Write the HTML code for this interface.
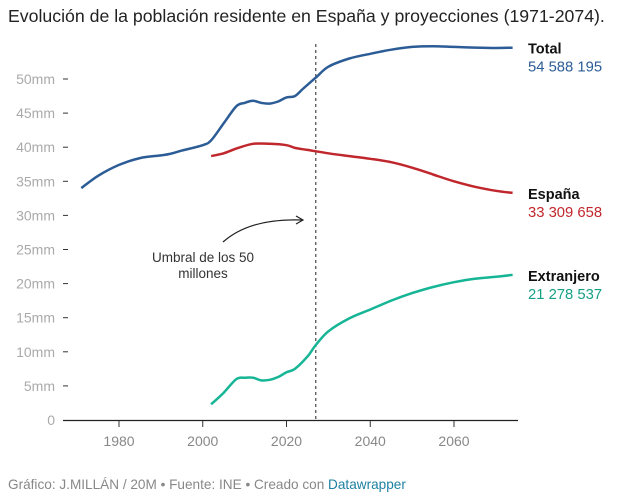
<!DOCTYPE html>
<html><head><meta charset="utf-8"><style>
body{margin:0;background:#fff;width:617px;height:497px;overflow:hidden;font-family:"Liberation Sans",sans-serif}
</style></head><body>
<svg width="617" height="497" style="position:absolute;left:0;top:0">
<text x="8" y="22" font-size="17.7" fill="#222">Evolución de la población residente en España y proyecciones (1971-2074).</text>
<g id="yaxis"></g>
<g id="xaxis"></g>
<g id="series"></g>
<g id="labels"></g>
<text x="203" y="262" font-size="13.5" fill="#333" text-anchor="middle">Umbral de los 50</text>
<text x="203" y="278" font-size="13.5" fill="#333" text-anchor="middle">millones</text>
<path d="M223,242 Q250,218 302,220" fill="none" stroke="#222" stroke-width="1.2"/>
<path d="M296,216 L303,220 L296,224" fill="none" stroke="#222" stroke-width="1.2"/>
<text x="8" y="489" font-size="13.6" fill="#888">Gráfico: J.MILLÁN / 20M • Fuente: INE • Creado con <tspan fill="#1d81a2">Datawrapper</tspan></text>
</svg>
<script>
const yTicks=[0,5,10,15,20,25,30,35,40,45,50];
const xTicks=[1980,2000,2020,2040,2060];
const totalYears=[1971,1975,1980,1985,1990,1992,1995,2000,2002,2005,2008,2010,2012,2014,2016,2018,2020,2022,2024,2027,2030,2035,2040,2045,2050,2055,2060,2065,2070,2074];
const totalVals=[34.0,35.8,37.4,38.4,38.8,39.0,39.5,40.3,41.0,43.5,46.0,46.5,46.8,46.5,46.4,46.7,47.3,47.5,48.6,50.2,51.8,53.0,53.7,54.3,54.7,54.8,54.7,54.6,54.55,54.59];
const espYears=[2002,2005,2008,2012,2016,2020,2022,2025,2030,2035,2040,2045,2050,2055,2060,2065,2070,2074];
const espVals=[38.7,39.1,39.8,40.5,40.5,40.3,39.9,39.6,39.1,38.7,38.3,37.8,37.0,36.0,35.0,34.2,33.6,33.31];
const extYears=[2002,2005,2008,2010,2012,2014,2016,2018,2020,2022,2025,2027,2030,2035,2040,2045,2050,2055,2060,2065,2070,2074];
const extVals=[2.3,4.0,6.0,6.2,6.2,5.8,5.9,6.3,7.0,7.5,9.3,11.0,13.0,14.9,16.2,17.5,18.6,19.5,20.2,20.7,21.0,21.28];
const thresholdYear=2027;
const NS="http://www.w3.org/2000/svg";
const X=y=>119+(y-1980)*(335/80);
const Y=v=>420-v*(341/50);
function mk(t,a,p){const e=document.createElementNS(NS,t);for(const k in a)e.setAttribute(k,a[k]);p.appendChild(e);return e;}
const ya=document.getElementById('yaxis'),xa=document.getElementById('xaxis'),sg=document.getElementById('series'),lg=document.getElementById('labels');
yTicks.forEach(v=>{if(v>0){const t=mk('text',{x:55,y:Y(v)+5,'font-size':14,fill:'#aaa','text-anchor':'end'},ya);t.textContent=v+'mm';

const l=mk('line',{x1:63,x2:68,y1:Y(v),y2:Y(v),stroke:'#333','stroke-width':1},ya);
}else{
const t=mk('text',{x:55,y:Y(v)+5,'font-size':14,fill:'#aaa','text-anchor':'end'},ya);t.textContent='0';
}});
const base=mk('line',{x1:63,x2:518,y1:420.5,y2:420.5,stroke:'#222','stroke-width':1.2},xa);

xTicks.forEach(v=>{const l=mk('line',{x1:X(v),x2:X(v),y1:421,y2:427,stroke:'#333'},xa);

const t=mk('text',{x:X(v),y:446,'font-size':14,fill:'#888','text-anchor':'middle'},xa);t.textContent=v;
});
const th=mk('line',{x1:X(thresholdYear),x2:X(thresholdYear),y1:44,y2:420,stroke:'#222','stroke-dasharray':'3,3','stroke-width':1},sg);

function line(ys,vs,c,name){const pts=ys.map((y,i)=>[X(y),Y(vs[i])]);let d='M'+pts[0].join(',');
for(let i=0;i<pts.length-1;i++){const p0=pts[Math.max(0,i-1)],p1=pts[i],p2=pts[i+1],p3=pts[Math.min(pts.length-1,i+2)];
const c1=[p1[0]+(p2[0]-p0[0])/6,p1[1]+(p2[1]-p0[1])/6],c2=[p2[0]-(p3[0]-p1[0])/6,p2[1]-(p3[1]-p1[1])/6];
d+='C'+c1.map(n=>n.toFixed(1))+' '+c2.map(n=>n.toFixed(1))+' '+p2.map(n=>n.toFixed(1));}
const p=mk('path',{d:d,fill:'none',stroke:c,'stroke-width':2.5,'stroke-linejoin':'round'},sg);
}
line(totalYears,totalVals,'#2c5c96','line-total');
line(espYears,espVals,'#c0272d','line-espana');
line(extYears,extVals,'#16b595','line-extranjero');
function lab(name,num,v,c,dn){const y=Y(v);
const a=mk('text',{x:528,y:y+6,'font-size':14.5,'font-weight':'bold',fill:'#111'},lg);a.textContent=name;

const b=mk('text',{x:528,y:y+24,'font-size':14.8,fill:c},lg);b.textContent=num;
}
lab('Total','54 588 195',totalVals[totalVals.length-1],'#2c5c96','total');
lab('España','33 309 658',espVals[espVals.length-1],'#c0272d','espana');
lab('Extranjero','21 278 537',extVals[extVals.length-1],'#16a085','extranjero');
</script>
</body></html>
